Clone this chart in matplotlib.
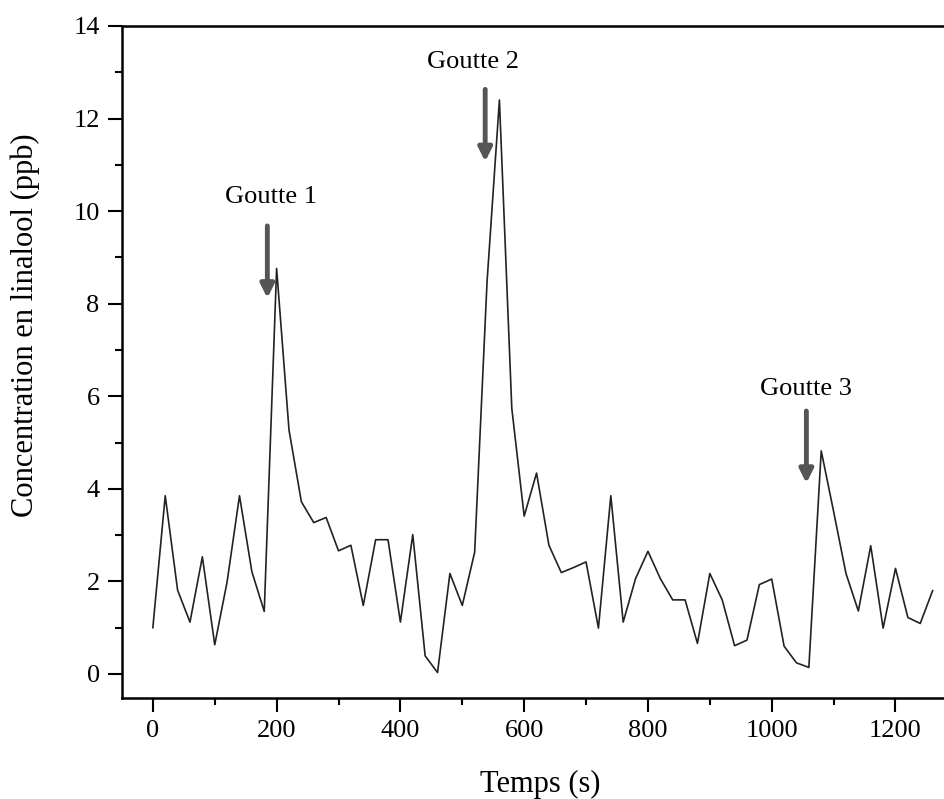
import matplotlib.pyplot as plt
import numpy as np
from matplotlib.ticker import MultipleLocator

# temps (s) et concentration (ppb)
temps = np.arange(0, 1280, 20)
conc = [1.00, 3.85, 1.81, 1.12, 2.53, 0.63, 1.99, 3.85, 2.21, 1.35,
        8.76, 5.27, 3.72, 3.27, 3.38, 2.66, 2.78, 1.48, 2.90, 2.90,
        1.12, 3.01, 0.39, 0.03, 2.17, 1.48, 2.63, 8.47, 12.40, 5.74,
        3.41, 4.34, 2.78, 2.19, 2.30, 2.42, 0.99, 3.85, 1.12, 2.06,
        2.65, 2.06, 1.60, 1.60, 0.66, 2.17, 1.60, 0.61, 0.73, 1.93,
        2.05, 0.60, 0.24, 0.14, 4.82, 3.51, 2.17, 1.36, 2.77, 0.99,
        2.28, 1.22, 1.09, 1.80]

# annotations : texte, position du texte, position de la fleche (x, haut, pointe)
labels = ["Goutte 1", "Goutte 2", "Goutte 3"]
label_x = [191, 517, 1056]
label_y = [10.3, 13.23, 6.16]
arrow_x = [185, 537, 1056]
arrow_top = [9.68, 12.63, 5.68]
arrow_tip = [8.12, 11.07, 4.12]

plt.rcParams['font.family'] = ['Liberation Serif', 'DejaVu Serif']

fig = plt.figure(figsize=(9.45, 7.99), dpi=100)
ax = fig.add_axes([0.129, 0.1264, 0.871, 0.8411])

ax.plot(temps, conc, color='#222222', lw=1.2)

for lab, lx, ly, ax_x, at, tip in zip(labels, label_x, label_y, arrow_x, arrow_top, arrow_tip):
    ax.text(lx, ly, lab, fontsize=19, ha='center', va='center')
    ax.annotate('', xy=(ax_x, tip), xytext=(ax_x, at),
                arrowprops=dict(arrowstyle='-|>,head_width=0.4,head_length=0.8',
                                color='#555555', lw=3.5, shrinkA=0, shrinkB=0))

ax.set_xlim(-50, 1280)
ax.set_ylim(-0.52, 14)
ax.xaxis.set_major_locator(MultipleLocator(200))
ax.xaxis.set_minor_locator(MultipleLocator(100))
ax.yaxis.set_major_locator(MultipleLocator(2))
ax.yaxis.set_minor_locator(MultipleLocator(1))
ax.tick_params(which='major', direction='out', length=10, width=1.5, labelsize=19, pad=6)
ax.tick_params(which='minor', direction='out', length=5, width=1.5)
ax.tick_params(top=False, right=False)

ax.spines['right'].set_visible(False)
for s in ['left', 'bottom', 'top']:
    ax.spines[s].set_linewidth(1.8)

ax.set_xlabel("Temps (s)", fontsize=22)
ax.set_ylabel("Concentration en linalool (ppb)", fontsize=22)
ax.xaxis.set_label_coords(0.508, -0.107)
ax.yaxis.set_label_coords(-0.1, 0.555)

fig.savefig("out.png", dpi=100)
